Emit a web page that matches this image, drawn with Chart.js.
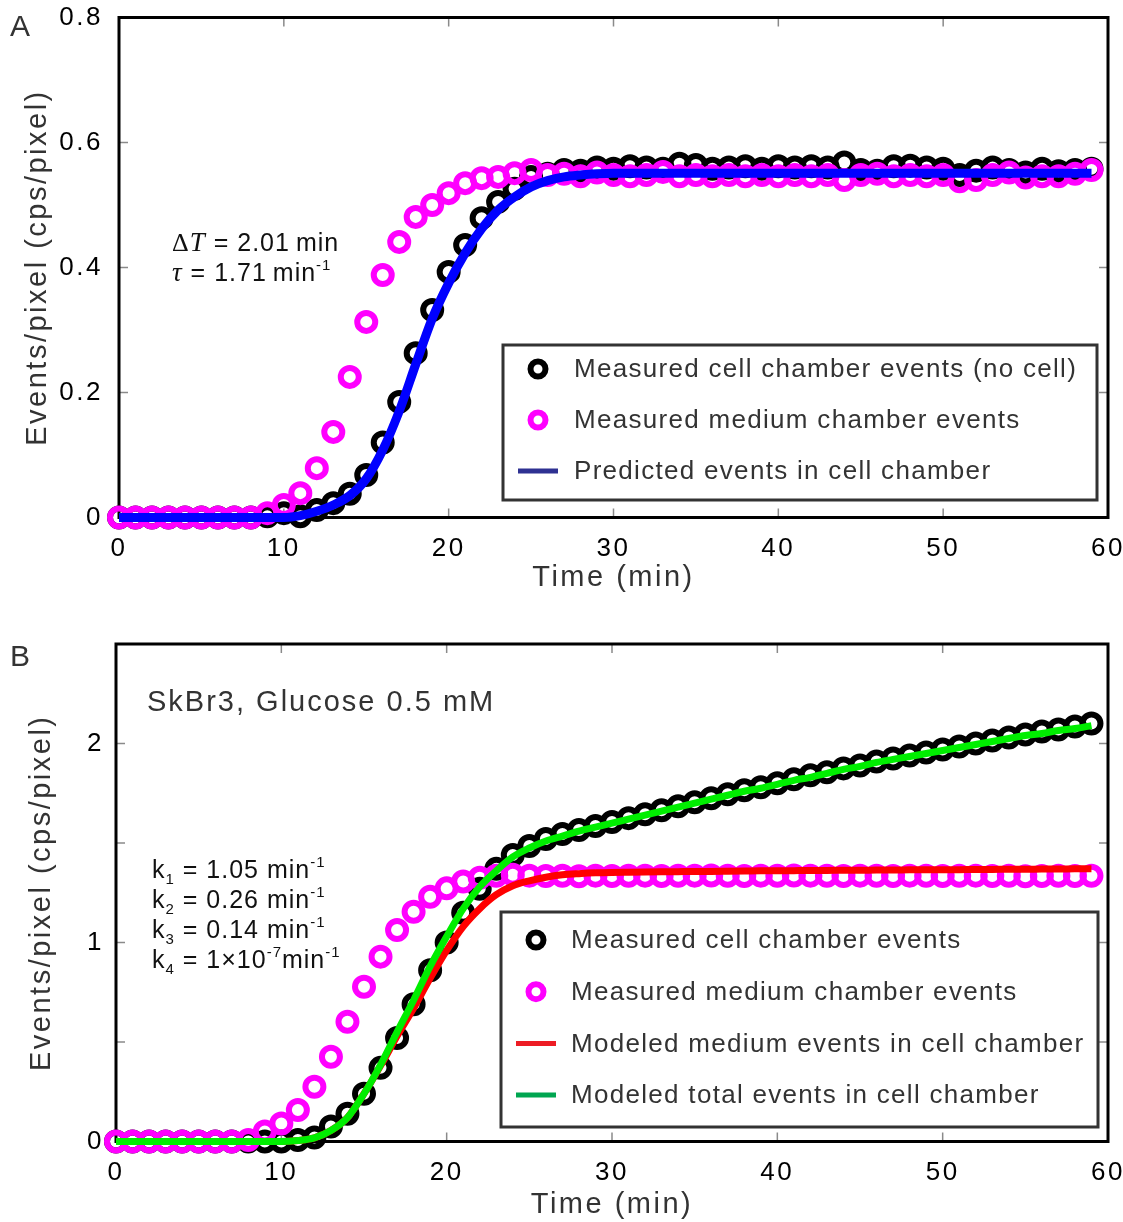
<!DOCTYPE html>
<html>
<head>
<meta charset="utf-8">
<script src="https://cdn.jsdelivr.net/npm/chart.js@4.4.1/dist/chart.umd.min.js"></script>
<style>
  html, body { margin: 0; padding: 0; background: #fff; }
  #wrap { position: relative; width: 1123px; height: 1222px; }
  .panel { position: absolute; left: 0; width: 1123px; }
  #pa { top: 0; height: 605px; }
  #pb { top: 625px; height: 597px; }
</style>
</head>
<body>
<div id="wrap">
  <div class="panel" id="pa"><canvas id="chartA"></canvas></div>
  <div class="panel" id="pb"><canvas id="chartB"></canvas></div>
</div>
<script>
// Waktu pengukuran (menit)
const timeMin = [0,1,2,3,4,5,6,7,8,9,10,11,12,13,14,15,16,17,18,19,
  20,21,22,23,24,25,26,27,28,29,30,31,32,33,34,35,36,37,38,39,
  40,41,42,43,44,45,46,47,48,49,50,51,52,53,54,55,56,57,58,59];

// Panel A
const cellA = [0,0,0,0,0,0,0,0,0,0.002,
  0.007,0.002,0.012,0.023,0.038,0.068,0.12,0.185,0.263,0.332,
  0.393,0.436,0.479,0.505,0.526,0.545,0.55,0.556,0.555,0.56,
  0.558,0.562,0.56,0.558,0.566,0.564,0.558,0.56,0.562,0.558,
  0.562,0.56,0.562,0.56,0.568,0.556,0.555,0.562,0.563,0.56,
  0.558,0.548,0.555,0.56,0.556,0.552,0.558,0.554,0.556,0.558];
const mediumA = [0,0,0,0,0,0,0,0,0,0.007,
  0.02,0.039,0.079,0.137,0.225,0.313,0.388,0.441,0.481,0.5,
  0.519,0.535,0.543,0.545,0.551,0.556,0.548,0.55,0.546,0.552,
  0.548,0.546,0.548,0.553,0.546,0.548,0.546,0.548,0.546,0.548,
  0.546,0.548,0.546,0.548,0.54,0.548,0.55,0.546,0.548,0.546,
  0.548,0.538,0.54,0.548,0.552,0.544,0.546,0.546,0.55,0.556];
const predictedA = [0,0,0,0,0,0,0,0,0,0,
  0,0.003,0.01,0.02,0.035,0.062,0.108,0.17,0.245,0.318,
  0.375,0.423,0.462,0.492,0.513,0.529,0.539,0.545,0.548,0.55,
  0.551,0.551,0.551,0.551,0.551,0.551,0.551,0.551,0.551,0.551,
  0.551,0.551,0.551,0.551,0.551,0.551,0.551,0.551,0.551,0.551,
  0.551,0.551,0.551,0.551,0.551,0.551,0.551,0.551,0.551,0.551];

// Panel B
const cellB = [0,0,0,0,0,0,0,0,0,0,
  0,0.008,0.02,0.075,0.14,0.24,0.37,0.52,0.69,0.86,
  1.0,1.15,1.27,1.37,1.44,1.485,1.52,1.545,1.565,1.585,
  1.605,1.625,1.645,1.665,1.685,1.705,1.725,1.745,1.765,1.78,
  1.8,1.82,1.84,1.855,1.875,1.89,1.91,1.925,1.94,1.955,
  1.97,1.985,2.0,2.015,2.03,2.045,2.06,2.07,2.085,2.1];
const mediumB = [0,0,0,0,0,0,0,0,0.008,0.05,
  0.09,0.158,0.275,0.426,0.602,0.778,0.929,1.063,1.155,1.23,
  1.272,1.306,1.325,1.335,1.34,1.336,1.334,1.335,1.333,1.336,
  1.334,1.335,1.336,1.334,1.335,1.336,1.337,1.335,1.334,1.336,
  1.335,1.337,1.336,1.335,1.334,1.336,1.335,1.334,1.336,1.335,
  1.334,1.335,1.336,1.334,1.335,1.333,1.334,1.335,1.334,1.335];
const modelMediumB = [0,0,0,0,0,0,0,0,0,0,
  0,0.005,0.018,0.055,0.12,0.24,0.38,0.53,0.67,0.82,
  0.96,1.08,1.17,1.24,1.285,1.31,1.328,1.34,1.346,1.35,
  1.352,1.353,1.354,1.355,1.356,1.357,1.357,1.358,1.359,1.36,
  1.36,1.361,1.362,1.362,1.363,1.363,1.364,1.364,1.365,1.365,
  1.366,1.366,1.367,1.367,1.368,1.368,1.369,1.369,1.37,1.37];
const modelTotalB = [0,0,0,0,0,0,0,0,0,0,
  0,0.005,0.018,0.055,0.12,0.24,0.385,0.55,0.71,0.88,
  1.03,1.17,1.28,1.36,1.43,1.475,1.51,1.535,1.56,1.58,
  1.6,1.62,1.64,1.66,1.68,1.7,1.72,1.74,1.76,1.775,
  1.795,1.815,1.83,1.85,1.87,1.885,1.905,1.92,1.935,1.95,
  1.965,1.98,1.995,2.01,2.025,2.04,2.05,2.065,2.075,2.09];

const xTicks = [0, 10, 20, 30, 40, 50, 60];
const yTicksA = [0, 0.2, 0.4, 0.6, 0.8];
const yTicksB = [0, 0.5, 1, 1.5, 2, 2.5];

const SANS = "'Liberation Sans', Arial, sans-serif";
const SERIF = "'Liberation Serif', 'Times New Roman', serif";
Chart.defaults.font.family = SANS;
Chart.defaults.color = '#000';

function toPoints(values) {
  return values.map((v, i) => ({ x: timeMin[i], y: v }));
}

// jarak huruf untuk teks bawaan Chart.js (tick & judul sumbu)
const spacingPlugin = {
  id: 'spacing',
  beforeDraw(chart) { chart.ctx.letterSpacing = '2.5px'; },
  afterDraw(chart) { chart.ctx.letterSpacing = '0px'; }
};

// kotak sumbu + tick ke dalam
const framePlugin = {
  id: 'frame',
  beforeDatasetsDraw(chart) {
    const { ctx, chartArea: a, scales: { x, y } } = chart;
    ctx.save();
    ctx.strokeStyle = '#8a8a8a';
    ctx.lineWidth = 1.5;
    const len = 9;
    ctx.beginPath();
    x.ticks.forEach(t => {
      const px = x.getPixelForValue(t.value);
      if (px <= a.left + 2 || px >= a.right - 2) return;
      ctx.moveTo(px, a.bottom); ctx.lineTo(px, a.bottom - len);
      ctx.moveTo(px, a.top); ctx.lineTo(px, a.top + len);
    });
    y.ticks.forEach(t => {
      const py = y.getPixelForValue(t.value);
      if (py <= a.top + 2 || py >= a.bottom - 2) return;
      ctx.moveTo(a.left, py); ctx.lineTo(a.left + len, py);
      ctx.moveTo(a.right, py); ctx.lineTo(a.right - len, py);
    });
    ctx.stroke();
    ctx.strokeStyle = '#000';
    ctx.lineWidth = 3;
    ctx.strokeRect(a.left, a.top, a.right - a.left, a.bottom - a.top);
    ctx.restore();
  }
};

// legenda dalam kotak di kanan bawah area plot
const boxLegendPlugin = {
  id: 'boxLegend',
  afterDatasetsDraw(chart, args, o) {
    const { ctx, chartArea: a } = chart;
    const left = a.right - o.offsetRight - o.width;
    const top = a.bottom - o.offsetBottom - o.height;
    ctx.save();
    ctx.fillStyle = '#fff';
    ctx.fillRect(left, top, o.width, o.height);
    ctx.strokeStyle = '#333';
    ctx.lineWidth = 3;
    ctx.strokeRect(left, top, o.width, o.height);
    ctx.font = '26px ' + SANS;
    ctx.letterSpacing = '1.3px';
    ctx.textBaseline = 'middle';
    chart.data.datasets.forEach((d, i) => {
      const cy = top + o.firstRow + i * o.rowGap;
      const mx = left + o.markerX;
      if (d.showLine) {
        ctx.strokeStyle = d.legendColor;
        ctx.lineWidth = 5;
        ctx.beginPath();
        ctx.moveTo(mx - 20, cy); ctx.lineTo(mx + 20, cy);
        ctx.stroke();
      } else {
        ctx.strokeStyle = d.borderColor;
        ctx.lineWidth = 6;
        ctx.beginPath();
        ctx.arc(mx, cy, 7.5, 0, Math.PI * 2);
        ctx.stroke();
      }
      ctx.fillStyle = '#333';
      ctx.fillText(d.label, left + o.textX, cy + 1);
    });
    ctx.restore();
  }
};

// teks anotasi (dengan subskrip / superskrip)
const notesPlugin = {
  id: 'notes',
  afterDraw(chart, args, o) {
    const ctx = chart.ctx;
    ctx.save();
    ctx.textBaseline = 'alphabetic';
    o.lines.forEach(line => {
      let x = line.x;
      ctx.fillStyle = line.color || '#111';
      ctx.letterSpacing = line.spacing || '1px';
      line.runs.forEach(r => {
        ctx.font = r.font;
        ctx.fillText(r.t, x, line.y + (r.dy || 0));
        x += ctx.measureText(r.t).width + (r.gap || 0);
      });
    });
    ctx.restore();
  }
};

const F = '25px ' + SANS;
const FS = '15px ' + SANS;
const FI = 'italic 27px ' + SERIF;
const FP = '30px ' + SANS;

function makeScales(o) {
  return {
    x: {
      type: 'linear', min: 0, max: 60,
      afterBuildTicks: s => { s.ticks = xTicks.map(v => ({ value: v })); },
      ticks: { padding: 15.5, font: { size: 26 }, color: '#000', maxRotation: 0, autoSkip: false,
        callback: v => String(v) },
      grid: { display: false, drawTicks: false },
      border: { display: false },
      title: { display: true, text: 'Time (min)', font: { size: 29 }, color: '#333',
        padding: { top: 0, bottom: o.xTitlePad } },
      afterFit: s => { s.height = o.xHeight; s.paddingLeft = 0; s.paddingRight = 0; }
    },
    y: {
      type: 'linear', min: 0, max: o.yMax,
      afterBuildTicks: s => { s.ticks = o.yTicks.map(v => ({ value: v })); },
      ticks: { padding: o.yTickPad, font: { size: 26 }, color: '#000', autoSkip: false,
        callback: o.yFormat },
      grid: { display: false, drawTicks: false },
      border: { display: false },
      title: { display: true, text: 'Events/pixel (cps/pixel)', font: { size: 29 }, color: '#333',
        padding: { top: o.yTitlePad, bottom: 0 } },
      afterFit: s => { s.width = o.yWidth; s.paddingTop = 0; s.paddingBottom = 0; }
    }
  };
}

function pointSet(label, values, color, order) {
  return { label, data: toPoints(values), showLine: false, order, clip: false,
    pointStyle: 'circle', pointRadius: 9, pointBorderWidth: 6,
    borderColor: color, backgroundColor: 'rgba(0,0,0,0)',
    pointBackgroundColor: 'rgba(0,0,0,0)', pointBorderColor: color };
}

function lineSet(label, values, color, legendColor, width, order) {
  return { label, data: toPoints(values), showLine: true, order, clip: false,
    borderColor: color, legendColor, borderWidth: width, pointRadius: 0,
    cubicInterpolationMode: 'monotone', fill: false };
}

new Chart(document.getElementById('chartA'), {
  type: 'scatter',
  data: {
    datasets: [
      pointSet('Measured cell chamber events (no cell)', cellA, '#000000', 2),
      pointSet('Measured medium chamber events', mediumA, '#ff00ff', 1),
      lineSet('Predicted events in cell chamber', predictedA, '#0000ff', '#2e3192', 9, 0)
    ]
  },
  options: {
    responsive: true,
    maintainAspectRatio: false,
    animation: false,
    events: [],
    layout: { padding: { top: 17.5, right: 11, left: 0, bottom: 0 } },
    scales: makeScales({ yMax: 0.8, yTicks: yTicksA, yWidth: 119, yTickPad: 16, yTitlePad: 21,
      xHeight: 87.5, xTitlePad: 10,
      yFormat: v => (v === 0 ? '0' : v.toFixed(1)) }),
    plugins: {
      legend: { display: false },
      tooltip: { enabled: false },
      boxLegend: { width: 594, height: 155, offsetRight: 11, offsetBottom: 17.5,
        firstRow: 24, rowGap: 51, markerX: 35, textX: 71 },
      notes: { lines: [
        { x: 10, y: 36, color: '#333', runs: [{ t: 'A', font: FP }] },
        { x: 172, y: 251, runs: [{ t: '\u0394', font: '26px ' + SERIF }, { t: 'T', font: FI },
          { t: ' = 2.01\u2009min', font: F }] },
        { x: 172, y: 281, runs: [{ t: '\u03c4', font: FI }, { t: ' = 1.71\u2009min', font: F },
          { t: '-1', font: FS, dy: -11 }] }
      ] }
    }
  },
  plugins: [spacingPlugin, framePlugin, boxLegendPlugin, notesPlugin]
});

new Chart(document.getElementById('chartB'), {
  type: 'scatter',
  data: {
    datasets: [
      pointSet('Measured cell chamber events', cellB, '#000000', 3),
      pointSet('Measured medium chamber events', mediumB, '#ff00ff', 2),
      lineSet('Modeled medium events in cell chamber', modelMediumB, '#ff0000', '#ed1c24', 7, 1),
      lineSet('Modeled total events in cell chamber', modelTotalB, '#00ee00', '#00a651', 7, 0)
    ]
  },
  options: {
    responsive: true,
    maintainAspectRatio: false,
    animation: false,
    events: [],
    layout: { padding: { top: 19, right: 15, left: 0, bottom: 0 } },
    scales: makeScales({ yMax: 2.5, yTicks: yTicksB, yWidth: 116, yTickPad: 12, yTitlePad: 25,
      xHeight: 80.5, xTitlePad: 0,
      yFormat: v => (Number.isInteger(v) ? String(v) : '') }),
    plugins: {
      legend: { display: false },
      tooltip: { enabled: false },
      boxLegend: { width: 597, height: 215, offsetRight: 10, offsetBottom: 14.5,
        firstRow: 28, rowGap: 51.7, markerX: 35, textX: 70 },
      notes: { lines: [
        { x: 10, y: 41, color: '#333', runs: [{ t: 'B', font: FP }] },
        { x: 147, y: 86, color: '#333', spacing: '2px', runs: [{ t: 'SkBr3, Glucose 0.5 mM', font: '29px ' + SANS }] },
        { x: 152, y: 253, runs: [{ t: 'k', font: F }, { t: '1', font: FS, dy: 6 }, { t: ' = 1.05 min', font: F },
          { t: '-1', font: FS, dy: -11 }] },
        { x: 152, y: 283, runs: [{ t: 'k', font: F }, { t: '2', font: FS, dy: 6 }, { t: ' = 0.26 min', font: F },
          { t: '-1', font: FS, dy: -11 }] },
        { x: 152, y: 313, runs: [{ t: 'k', font: F }, { t: '3', font: FS, dy: 6 }, { t: ' = 0.14 min', font: F },
          { t: '-1', font: FS, dy: -11 }] },
        { x: 152, y: 343, runs: [{ t: 'k', font: F }, { t: '4', font: FS, dy: 6 }, { t: ' = 1\u00d710', font: F },
          { t: '-7', font: FS, dy: -11 }, { t: 'min', font: F }, { t: '-1', font: FS, dy: -11 }] }
      ] }
    }
  },
  plugins: [spacingPlugin, framePlugin, boxLegendPlugin, notesPlugin]
});
</script>
</body>
</html>
